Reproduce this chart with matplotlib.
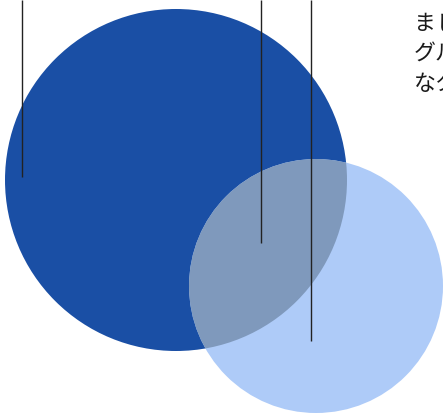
import matplotlib
matplotlib.use("Agg")
import matplotlib.pyplot as plt
from matplotlib.patches import Circle

plt.rcParams['font.family'] = ['Noto Sans CJK JP', 'DejaVu Sans']

# Venn sets (data coordinates in pixel-like units)
set_names = ["A", "B"]
set_centers_x = [176, 316]
set_centers_y = [180, 286]
set_radii = [171, 127]
set_colors = ["#1a4fa5", "#aecbf8"]
overlap_color = "#7f99bc"

# Leader lines (x position, end y)
leader_x = [22, 261, 311]
leader_end_y = [177, 243, 341]

# Annotation text (clipped at right edge)
text_lines = ["キリ", "ました", "グループ", "なタ"]

fig = plt.figure(figsize=(4.43, 4.17), dpi=100)
ax = fig.add_axes([0, 0, 1, 1])
ax.set_xlim(0, 443)
ax.set_ylim(417, 0)
ax.axis('off')

big = Circle((set_centers_x[0], set_centers_y[0]), set_radii[0],
             facecolor=set_colors[0], edgecolor='none', zorder=1)
small = Circle((set_centers_x[1], set_centers_y[1]), set_radii[1],
               facecolor=set_colors[1], edgecolor='none', zorder=1)
ax.add_patch(big)
ax.add_patch(small)
ov = Circle((set_centers_x[1], set_centers_y[1]), set_radii[1],
            facecolor=overlap_color, edgecolor='none', zorder=2)
ax.add_patch(ov)
ov.set_clip_path(big)

for x, y in zip(leader_x, leader_end_y):
    ax.plot([x, x], [0, y], color='#222222', lw=1.0, zorder=3,
            solid_capstyle='butt')

for i, t in enumerate(text_lines):
    ax.text(414, -6.5 + i * 30.3, t, fontsize=15.8, color='#1a1a1a',
            ha='left', va='center', zorder=4, clip_on=True)

fig.savefig("out.png", dpi=100)
